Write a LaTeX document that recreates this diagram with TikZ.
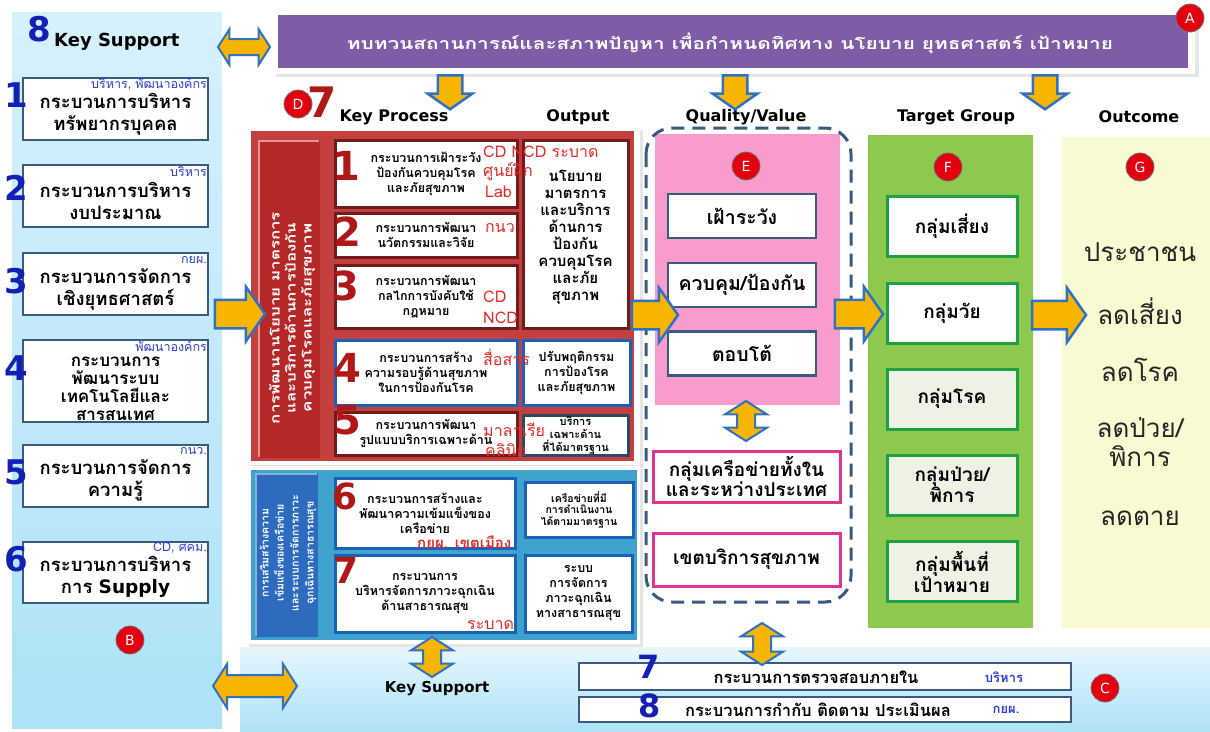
\documentclass[tikz,border=0pt]{standalone}
\usepackage{fontspec}
\setmainfont{Loma}[Script=Thai]
\newfontfamily\widethai{Loma}[Script=Thai,FakeStretch=1.3]
\newfontfamily\headfont{DejaVu Sans}
\usetikzlibrary{shapes.arrows}
\usetikzlibrary{positioning}
\newcommand{\fsz}[2]{\fontsize{#1}{#2}\selectfont}

\definecolor{panelTop}{HTML}{D6F1FC}
\definecolor{panelBot}{HTML}{ADE2F7}
\definecolor{numblue}{HTML}{1420B4}
\definecolor{tagblue}{HTML}{2F3FD0}
\definecolor{barpurple}{HTML}{7E5DA6}
\definecolor{boxedge}{HTML}{3A5A80}
\definecolor{arrowfill}{HTML}{F7B500}
\definecolor{arrowedge}{HTML}{2F72C4}
\definecolor{procred}{HTML}{C4403F}
\definecolor{procbar}{HTML}{B42828}
\definecolor{procedge}{HTML}{6E1C1C}
\definecolor{numred}{HTML}{B01818}
\definecolor{tagred}{HTML}{E22A2A}
\definecolor{netteal}{HTML}{3FA2CC}
\definecolor{netbar}{HTML}{2D6BBE}
\definecolor{netedge}{HTML}{1A62B8}
\definecolor{pinkfill}{HTML}{F79CCB}
\definecolor{magedge}{HTML}{E0358C}
\definecolor{greenfill}{HTML}{8CC94E}
\definecolor{greenedge}{HTML}{1FA045}
\definecolor{greenbox}{HTML}{EEF2E4}
\definecolor{outfill}{HTML}{FAFAD2}
\definecolor{circred}{HTML}{E3000F}

\tikzset{
    supportbox/.style={
           rectangle,
           draw=boxedge, line width=2.5pt,
           fill=white,
           minimum width=185,
           inner sep=0pt,
           },
    supporttext/.style={font=\bfseries\fsz{18.5}{22}, align=center, inner sep=0pt},
    supportnum/.style={font=\headfont\bfseries\fsz{34}{34}, text=numblue, inner sep=0pt},
    supporttag/.style={font=\fsz{12.5}{12.5}, text=tagblue, anchor=east, inner sep=0pt},
    procbox/.style={
           rectangle,
           draw=procedge, line width=3pt,
           fill=white,
           minimum width=182,
           inner sep=0pt,
           align=center,
           font=\bfseries\fsz{12.5}{15},
           },
    netbox/.style={procbox, draw=netedge},
    procnum/.style={font=\headfont\bfseries\fsz{40}{40}, text=numred, inner sep=0pt},
    proctag/.style={font=\fsz{16}{16}, text=tagred, anchor=west, inner sep=0pt},
    bartext/.style={rotate=90, text=white, align=center, inner sep=0pt},
    heading/.style={font=\headfont\bfseries\fsz{16}{16}, inner sep=0pt},
    marker/.style={
           circle,
           fill=circred, draw=black!55, line width=0.8pt,
           text=white,
           font=\headfont\fsz{14}{14},
           minimum size=28, inner sep=0pt,
           },
    qbox/.style={
           rectangle,
           draw=boxedge, line width=2.5pt,
           fill=white,
           minimum width=148, minimum height=44,
           font=\bfseries\fsz{19.5}{22},
           },
    netgroup/.style={
           rectangle,
           draw=magedge, line width=3pt,
           fill=white,
           minimum width=187,
           align=center,
           inner sep=0pt,
           font=\bfseries\fsz{19}{20},
           },
    tgbox/.style={
           rectangle,
           draw=greenedge, line width=3pt,
           fill=white,
           minimum width=130, minimum height=60,
           align=center,
           inner sep=0pt,
           font=\bfseries\fsz{19}{21},
           },
    outtext/.style={font=\fsz{26}{29}, align=center, text=black!85},
    bottombox/.style={
           rectangle,
           draw=boxedge, line width=2.5pt,
           fill=white,
           minimum width=492,
           inner sep=0pt,
           },
    fatarrow/.style={
           single arrow,
           draw=arrowedge, fill=arrowfill, line width=2.5pt,
           inner sep=13pt,
           minimum height=50,
           single arrow head extend=13pt,
           single arrow tip angle=110,
           },
    twinarrow/.style={
           double arrow,
           draw=arrowedge, fill=arrowfill, line width=2pt,
           inner sep=8pt,
           double arrow head extend=10pt,
           double arrow tip angle=115,
           },
}

\begin{document}
\begin{tikzpicture}[x=1pt,y=-1pt]
\useasboundingbox (0,0) rectangle (1210,731);
\fill[white] (0,0) rectangle (1210,731);

% panels
\shade[top color=panelTop, bottom color=panelBot] (12,12) rectangle (222,728);
\shade[top color=panelTop!60!white, bottom color=panelBot] (240,647) rectangle (1210,731);

\fill[black!10] (276,13) rectangle (1199,77);
\fill[white] (272,10) rectangle (1195,74);
\fill[barpurple] (278,15) rectangle (1188,68);

\fill[black!10] (249,130) rectangle (643,468);
\fill[white] (246,127) rectangle (640,465);
\fill[procred] (251,131) rectangle (634,461);
\fill[procbar] (258,140) rectangle (320,458);
\draw[line width=2pt, procred!55!white] (259,457) -- (259,141) -- (319,141);

\fill[black!10] (249,469) rectangle (643,647);
\fill[white] (246,466) rectangle (640,644);
\fill[netteal] (251,470) rectangle (637,640);
\fill[netbar] (255,473) rectangle (318,637);
\draw[line width=2pt, netbar!55!white] (256,636) -- (256,474) -- (317,474);

\fill[pinkfill] (655,134) rectangle (840,405);
\fill[greenfill] (868,135) rectangle (1033,628);
\fill[outfill] (1062,137) rectangle (1210,628);
\draw[boxedge, line width=3pt, dash pattern=on 13pt off 8pt, rounded corners=26]
    (646,128) rectangle (851,602);

% key support (left)
\node[supportnum] (n8) at (39,29) {8};
\node[font=\headfont\bfseries\fsz{18}{18}, anchor=west, inner sep=0pt] (ksTitle) at (54,42) {Key Support};

\node[supportbox, minimum height=62] (s1) at (115.5,109) {};
\node[supportbox, minimum height=62] (s2) at (115.5,196) {};
\node[supportbox, minimum height=62] (s3) at (115.5,284) {};
\node[supportbox, minimum height=82] (s4) at (115.5,381) {};
\node[supportbox, minimum height=62] (s5) at (115.5,476) {};
\node[supportbox, minimum height=61] (s6) at (115.5,572.5) {};

\node[supporttext] (s1Text) at (115.5,114) {กระบวนการบริหาร\\ทรัพยากรบุคคล};
\node[supporttext] (s2Text) at (115.5,201) {กระบวนการบริหาร\\งบประมาณ};
\node[supporttext] (s3Text) at (115.5,289) {กระบวนการจัดการ\\เชิงยุทธศาสตร์};
\node[supporttext, font=\bfseries\fsz{17}{18}] (s4Text) at (115.5,389)
    {กระบวนการ\\พัฒนาระบบ\\เทคโนโลยีและ\\สารสนเทศ};
\node[supporttext] (s5Text) at (115.5,480) {กระบวนการจัดการ\\ความรู้};
\node[supporttext] (s6Text) at (115.5,577) {กระบวนการบริหาร\\การ {\headfont Supply}};

\node[supportnum] (n1) at (16,95) {1};
\node[supportnum] (n2) at (16,188) {2};
\node[supportnum] (n3) at (16,281) {3};
\node[supportnum] (n4) at (16,368) {4};
\node[supportnum] (n5) at (16,472) {5};
\node[supportnum] (n6) at (16,559) {6};

\node[supporttag] (t1) at (207,84) {บริหาร, พัฒนาองค์กร};
\node[supporttag] (t2) at (207,172) {บริหาร};
\node[supporttag] (t3) at (207,260) {กยผ.};
\node[supporttag] (t4) at (207,346) {พัฒนาองค์กร};
\node[supporttag] (t5) at (207,451) {กนว.};
\node[supporttag] (t6) at (207,548) {CD, ศคม.};

\node[marker] (mB) at (130,640) {B};

% review bar
\node[font=\widethai\bfseries\fsz{16}{16}, text=white, inner sep=0pt] (review) at (730,43)
    {ทบทวนสถานการณ์และสภาพปัญหา เพื่อกำหนดทิศทาง นโยบาย ยุทธศาสตร์ เป้าหมาย};
\node[marker] (mA) at (1190,18) {A};

% headings
\node[marker] (mD) at (298,104) {D};
\node[procnum, font=\headfont\bfseries\fsz{42}{42}] (n7top) at (322,102) {7};
\node[heading] (hProc) at (394,117) {Key Process};
\node[heading] (hOut) at (578,117) {Output};
\node[heading] (hQual) at (746,117) {Quality/Value};
\node[heading] (hTarget) at (956,117) {Target Group};
\node[heading] (hOutcome) at (1139,117) {Outcome};

% key process
\node[bartext, font=\widethai\bfseries\fsz{13}{16}] (procBar) at (292,318)
    {การพัฒนานโยบาย มาตรการ\\และบริการด้านการป้องกัน\\ควบคุมโรคและภัยสุขภาพ};

\node[procbox, minimum height=67] (p1) at (426,173.5) {กระบวนการเฝ้าระวัง\\ป้องกันควบคุมโรค\\และภัยสุขภาพ};
\node[procbox, minimum height=44] (p2) at (426,235) {กระบวนการพัฒนา\\นวัตกรรมและวิจัย};
\node[procbox, minimum height=63] (p3) at (426,296.5) {กระบวนการพัฒนา\\กลไกการบังคับใช้\\กฎหมาย};
\node[procbox, minimum width=105, minimum height=188, font=\bfseries\fsz{15}{17}] (o1) at (575.5,234)
    {\\นโยบาย\\มาตรการ\\และบริการ\\ด้านการ\\ป้องกัน\\ควบคุมโรค\\และภัย\\สุขภาพ};
\node[netbox, minimum height=65] (p4) at (426,372.5) {กระบวนการสร้าง\\ความรอบรู้ด้านสุขภาพ\\ในการป้องกันโรค};
\node[netbox, minimum width=107, minimum height=65] (o4) at (576.5,372.5) {ปรับพฤติกรรม\\การป้องโรค\\และภัยสุขภาพ};
\node[procbox, minimum height=43] (p5) at (426,433.5) {กระบวนการพัฒนา\\รูปแบบบริการเฉพาะด้าน};
\node[procbox, draw=boxedge!80!black, minimum width=105, minimum height=40, font=\bfseries\fsz{11}{13}] (o5) at (575.5,435)
    {บริการ\\เฉพาะด้าน\\ที่ได้มาตรฐาน};

\node[procnum] (pn1) at (346,166) {1};
\node[procnum] (pn2) at (347,232) {2};
\node[procnum] (pn3) at (345,286) {3};
\node[procnum] (pn4) at (347,368) {4};
\node[procnum] (pn5) at (347,420) {5};

\node[proctag] (pt1) at (483,152) {CD NCD ระบาด};
\node[proctag] (pt2) at (483,172) {ศูนย์ฝึก};
\node[proctag] (pt3) at (485,192) {Lab};
\node[proctag] (pt4) at (485,228) {กนว};
\node[proctag] (pt5) at (483,297) {CD};
\node[proctag] (pt6) at (483,318) {NCD};
\node[proctag] (pt7) at (483,357) {สื่อสาร};
\node[proctag] (pt8) at (483,430) {มาลาเรีย};
\node[proctag] (pt9) at (485,450) {คลินิก};

% network and emergency
\node[bartext, font=\bfseries\fsz{10.5}{15}] (netBar) at (288,553)
    {การเสริมสร้างความ\\เข้มแข็งของเครือข่าย\\และระบบการจัดการภาวะ\\ฉุกเฉินทางสาธารณสุข};
\node[netbox, minimum width=180, minimum height=70] (p6) at (425,513) {กระบวนการสร้างและ\\พัฒนาความเข้มแข็งของ\\เครือข่าย};
\node[netbox, minimum width=108, minimum height=55, font=\bfseries\fsz{10.5}{11.5}] (o6) at (579,509.5) {เครือข่ายที่มี\\การดำเนินงาน\\ได้ตามมาตรฐาน};
\node[netbox, minimum width=180, minimum height=77] (p7) at (425,593.5) {กระบวนการ\\บริหารจัดการภาวะฉุกเฉิน\\ด้านสาธารณสุข};
\node[netbox, minimum width=107, minimum height=77] (o7) at (578.5,593.5) {ระบบ\\การจัดการ\\ภาวะฉุกเฉิน\\ทางสาธารณสุข};
\node[procnum, font=\headfont\bfseries\fsz{36}{36}] (pn6) at (345,496) {6};
\node[procnum, font=\headfont\bfseries\fsz{36}{36}] (pn7) at (346,570) {7};
\node[proctag, font=\bfseries\fsz{15}{15}] (pt10) at (417,542) {กยผ. เขตเมือง};
\node[proctag] (pt11) at (467,625) {ระบาด};

% quality / value
\node[marker] (mE) at (746,166) {E};
\node[qbox] (q1) at (742,216) {เฝ้าระวัง};
\node[qbox] (q2) at (742,285) {ควบคุม/ป้องกัน};
\node[qbox] (q3) at (742,353.5) {ตอบโต้};
\node[netgroup, minimum height=51] (g1) at (746.5,476.5) {กลุ่มเครือข่ายทั้งใน\\และระหว่างประเทศ};
\node[netgroup, minimum height=53] (g2) at (746.5,559.5) {เขตบริการสุขภาพ};

% target group
\node[marker] (mF) at (948,167) {F};
\node[tgbox] (tg1) at (952,226) {กลุ่มเสี่ยง};
\node[tgbox] (tg2) at (952,313) {กลุ่มวัย};
\node[tgbox, fill=greenbox] (tg3) at (952,399) {กลุ่มโรค};
\node[tgbox, fill=greenbox] (tg4) at (952,485) {กลุ่มป่วย/\\พิการ};
\node[tgbox, fill=greenbox] (tg5) at (952,571.5) {กลุ่มพื้นที่\\เป้าหมาย};

% outcome
\node[marker] (mG) at (1140,167) {G};
\node[outtext] (oc1) at (1140,252) {ประชาชน};
\node[outtext] (oc2) at (1140,311) {ลดเสี่ยง};
\node[outtext] (oc3) at (1140,370) {ลดโรค};
\node[outtext] (oc4) at (1140,442) {ลดป่วย/\\พิการ};
\node[outtext] (oc5) at (1140,518) {ลดตาย};

% key support (bottom)
\node[heading, font=\headfont\bfseries\fsz{15}{15}] (ksBottom) at (437,689) {Key Support};
\node[bottombox, minimum height=27] (b7) at (825,676.5) {};
\node[bottombox, minimum height=25] (b8) at (825,709.5) {};
\node[font=\bfseries\fsz{16.5}{16.5}, inner sep=0pt] (b7Text) at (816,677) {กระบวนการตรวจสอบภายใน};
\node[font=\bfseries\fsz{16.5}{16.5}, inner sep=0pt] (b8Text) at (818,710) {กระบวนการกำกับ ติดตาม ประเมินผล};
\node[font=\bfseries\fsz{13}{13}, text=tagblue, inner sep=0pt] (b7Tag) at (1004,677) {บริหาร};
\node[font=\bfseries\fsz{13}{13}, text=tagblue, inner sep=0pt] (b8Tag) at (1006,710) {กยผ.};
\node[supportnum, font=\headfont\bfseries\fsz{32}{32}] (bn7) at (649,667) {7};
\node[supportnum, font=\headfont\bfseries\fsz{32}{32}] (bn8) at (650,706) {8};
\node[marker] (mC) at (1105,688) {C};

% block arrows
\node[twinarrow, minimum height=52, inner sep=7pt] (swapTop) at (244,47) {};
\node[twinarrow, minimum height=84, inner sep=10pt, double arrow head extend=11pt] (swapBottom) at (255,686) {};
\node[fatarrow, rotate=-90, minimum height=34, inner sep=11pt, single arrow head extend=10pt] (dnProc) at (450,88) {};
\node[fatarrow, rotate=-90, minimum height=34, inner sep=11pt, single arrow head extend=10pt] (dnQual) at (735,88) {};
\node[fatarrow, rotate=-90, minimum height=34, inner sep=11pt, single arrow head extend=10pt] (dnTarget) at (1045,88) {};
\node[fatarrow] (toProc) at (235,314) {};
\node[fatarrow, minimum height=46] (toQual) at (650,315) {};
\node[fatarrow, minimum height=48] (toTarget) at (854,314) {};
\node[fatarrow, minimum height=54] (toOutcome) at (1054,315) {};
\node[twinarrow, rotate=90, minimum height=40, double arrow head extend=12pt] (swapQual) at (746,421) {};
\node[twinarrow, rotate=90, minimum height=40, double arrow head extend=12pt] (swapNet) at (432,657) {};
\node[twinarrow, rotate=90, minimum height=42, double arrow head extend=12pt] (swapAudit) at (762,644) {};

\end{tikzpicture}
\end{document}
